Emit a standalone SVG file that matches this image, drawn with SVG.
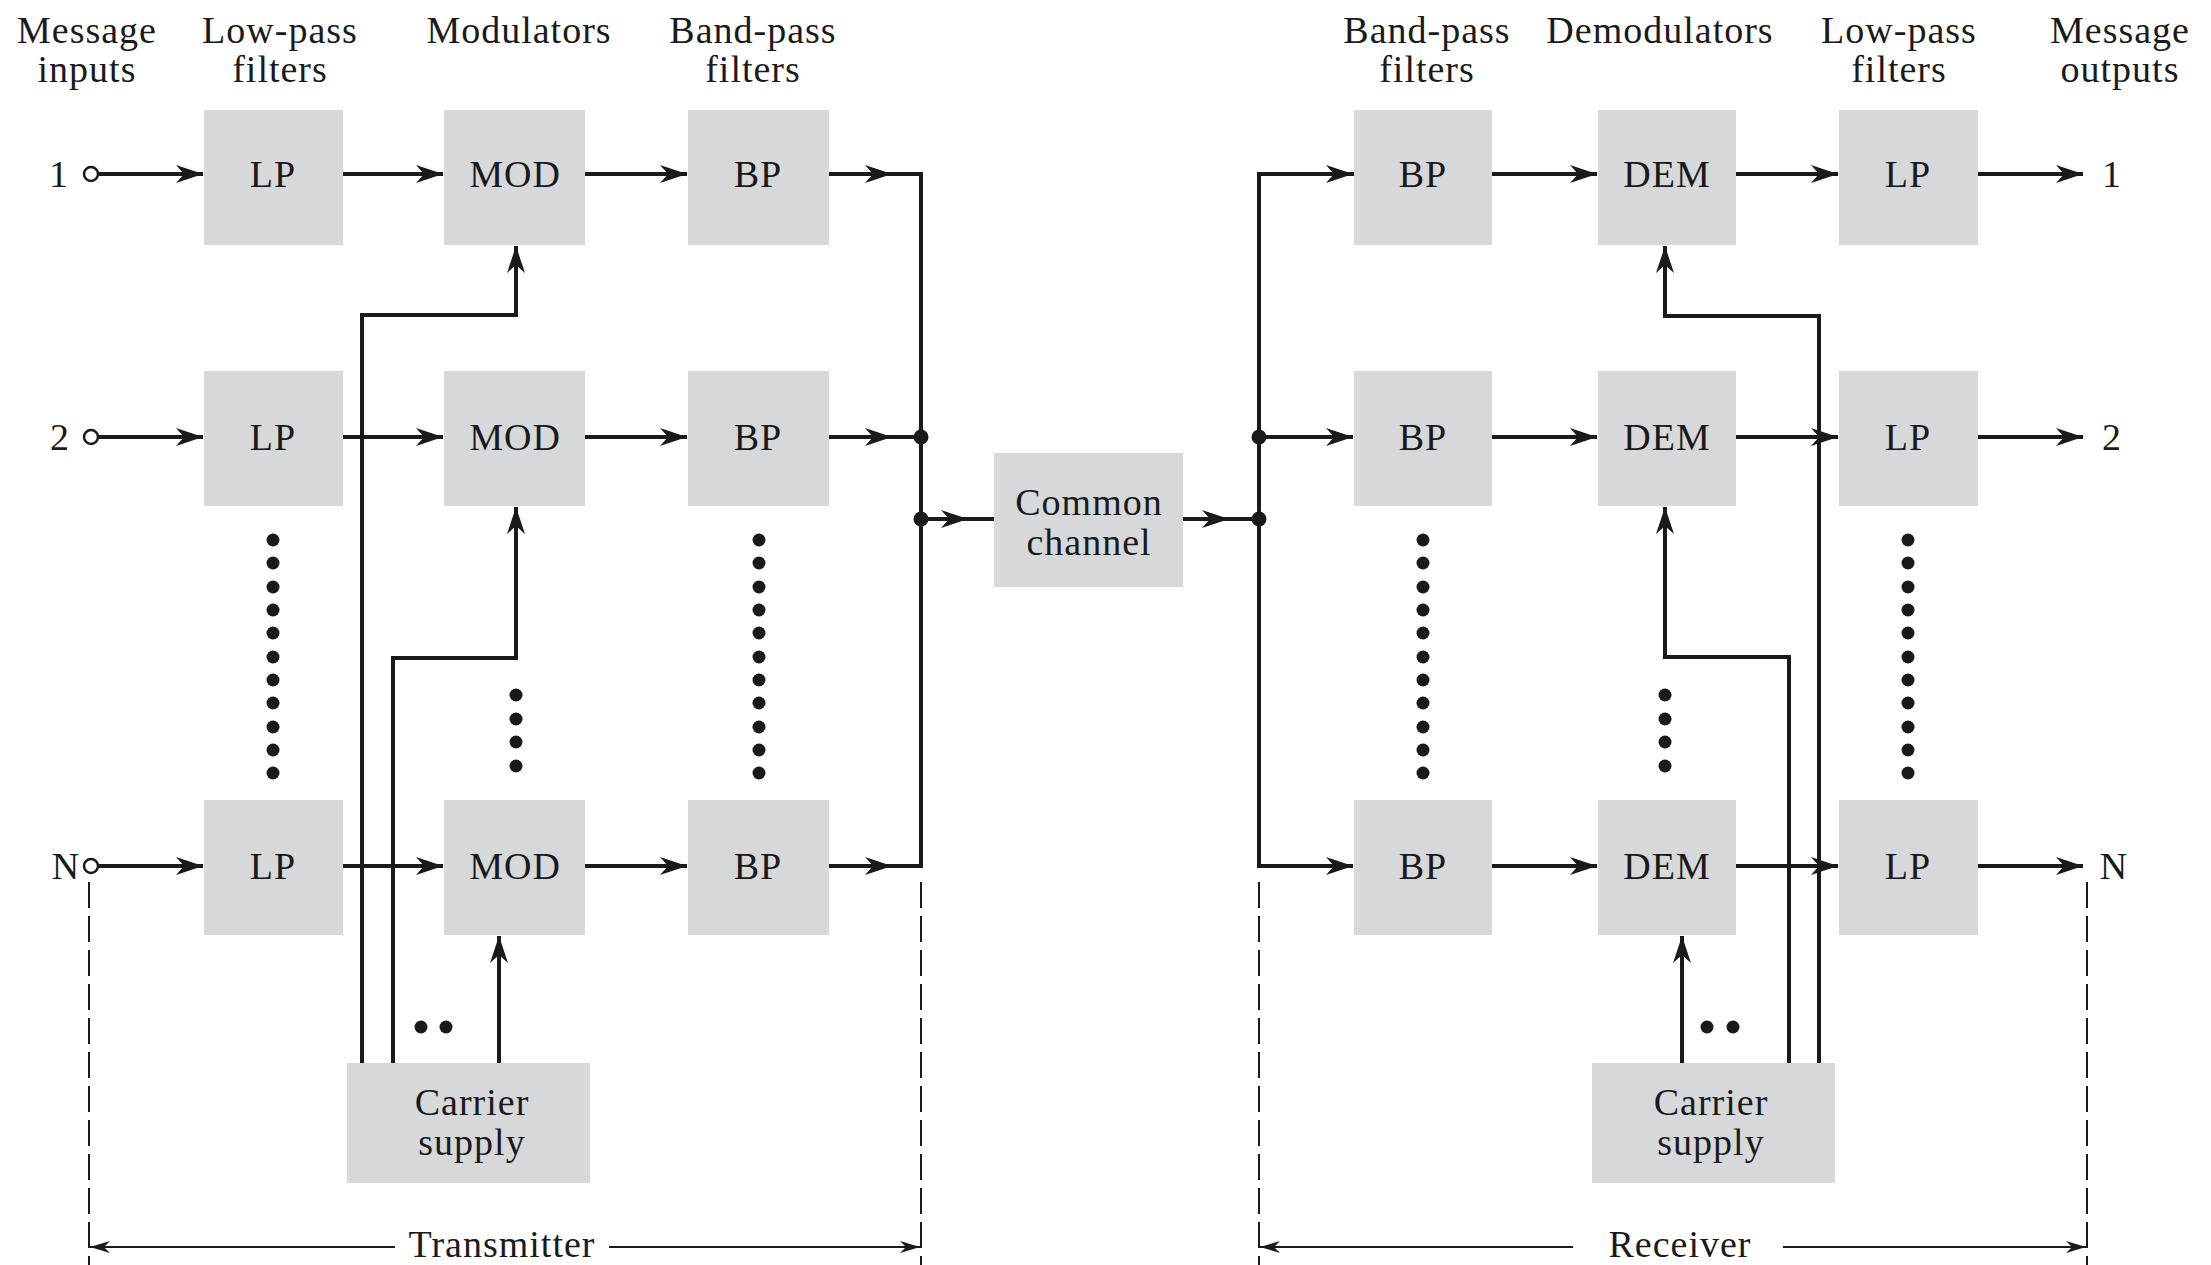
<svg xmlns="http://www.w3.org/2000/svg" width="2211" height="1265" viewBox="0 0 2211 1265">
<style>
.box{fill:#d7d8da;}
.t{font-family:"Liberation Serif","Times New Roman",serif;font-size:38px;fill:#1a1a1a;letter-spacing:1px;text-anchor:middle;}
.ln{stroke:#1a1a1a;stroke-width:4;fill:none;}
.ar{stroke:#1a1a1a;stroke-width:4;fill:none;marker-end:url(#ah);}
.dash{stroke:#1a1a1a;stroke-width:2;stroke-dasharray:26 8;fill:none;}
.dim{stroke:#1a1a1a;stroke-width:2;fill:none;marker-start:url(#sa);marker-end:url(#sa);}
.dot{fill:#1a1a1a;}
</style>
<defs>
<marker id="ah" markerUnits="userSpaceOnUse" markerWidth="40" markerHeight="30" viewBox="-30 -15 40 30" refX="0" refY="0" orient="auto" overflow="visible">
<path d="M0,0 L-27,-9 L-19,0 L-27,9 Z" fill="#1a1a1a"/>
</marker>
<marker id="sa" markerUnits="userSpaceOnUse" markerWidth="30" markerHeight="20" viewBox="-24 -10 30 20" refX="0" refY="0" orient="auto-start-reverse" overflow="visible">
<path d="M0,0 L-20,-6 L-14,0 L-20,6 Z" fill="#1a1a1a"/>
</marker>
</defs>
<rect width="2211" height="1265" fill="#ffffff"/>

<!-- headers -->
<g id="headers">
<text class="t" x="87" y="43">Message</text><text class="t" x="87" y="82">inputs</text>
<text class="t" x="280" y="43">Low-pass</text><text class="t" x="280" y="82">filters</text>
<text class="t" x="519" y="43">Modulators</text>
<text class="t" x="753" y="43">Band-pass</text><text class="t" x="753" y="82">filters</text>
<text class="t" x="1427" y="43">Band-pass</text><text class="t" x="1427" y="82">filters</text>
<text class="t" x="1660" y="43">Demodulators</text>
<text class="t" x="1899" y="43">Low-pass</text><text class="t" x="1899" y="82">filters</text>
<text class="t" x="2120" y="43">Message</text><text class="t" x="2120" y="82">outputs</text>
</g>

<!-- transmitter nodes -->
<g id="tx-lp1"><rect class="box" x="204" y="110" width="139" height="135"/><text class="t" x="273" y="187">LP</text></g>
<g id="tx-mod1"><rect class="box" x="444" y="110" width="141" height="135"/><text class="t" x="515" y="187">MOD</text></g>
<g id="tx-bp1"><rect class="box" x="688" y="110" width="141" height="135"/><text class="t" x="758" y="187">BP</text></g>
<g id="tx-lp2"><rect class="box" x="204" y="371" width="139" height="135"/><text class="t" x="273" y="450">LP</text></g>
<g id="tx-mod2"><rect class="box" x="444" y="371" width="141" height="135"/><text class="t" x="515" y="450">MOD</text></g>
<g id="tx-bp2"><rect class="box" x="688" y="371" width="141" height="135"/><text class="t" x="758" y="450">BP</text></g>
<g id="tx-lpN"><rect class="box" x="204" y="800" width="139" height="135"/><text class="t" x="273" y="879">LP</text></g>
<g id="tx-modN"><rect class="box" x="444" y="800" width="141" height="135"/><text class="t" x="515" y="879">MOD</text></g>
<g id="tx-bpN"><rect class="box" x="688" y="800" width="141" height="135"/><text class="t" x="758" y="879">BP</text></g>
<g id="tx-carrier"><rect class="box" x="347" y="1063" width="243" height="120"/><text class="t" x="472" y="1115">Carrier</text><text class="t" x="472" y="1155">supply</text></g>

<!-- common channel -->
<g id="common-channel"><rect class="box" x="994" y="453" width="189" height="134"/><text class="t" x="1089" y="515">Common</text><text class="t" x="1089" y="555">channel</text></g>

<!-- receiver nodes -->
<g id="rx-bp1"><rect class="box" x="1354" y="110" width="138" height="135"/><text class="t" x="1423" y="187">BP</text></g>
<g id="rx-dem1"><rect class="box" x="1598" y="110" width="138" height="135"/><text class="t" x="1667" y="187">DEM</text></g>
<g id="rx-lp1"><rect class="box" x="1839" y="110" width="139" height="135"/><text class="t" x="1908" y="187">LP</text></g>
<g id="rx-bp2"><rect class="box" x="1354" y="371" width="138" height="135"/><text class="t" x="1423" y="450">BP</text></g>
<g id="rx-dem2"><rect class="box" x="1598" y="371" width="138" height="135"/><text class="t" x="1667" y="450">DEM</text></g>
<g id="rx-lp2"><rect class="box" x="1839" y="371" width="139" height="135"/><text class="t" x="1908" y="450">LP</text></g>
<g id="rx-bpN"><rect class="box" x="1354" y="800" width="138" height="135"/><text class="t" x="1423" y="879">BP</text></g>
<g id="rx-demN"><rect class="box" x="1598" y="800" width="138" height="135"/><text class="t" x="1667" y="879">DEM</text></g>
<g id="rx-lpN"><rect class="box" x="1839" y="800" width="139" height="135"/><text class="t" x="1908" y="879">LP</text></g>
<g id="rx-carrier"><rect class="box" x="1592" y="1063" width="243" height="120"/><text class="t" x="1711" y="1115">Carrier</text><text class="t" x="1711" y="1155">supply</text></g>

<!-- inputs / outputs labels -->
<g id="inputs">
<text class="t" x="59" y="187">1</text>
<text class="t" x="60" y="450">2</text>
<text class="t" x="66" y="879">N</text>
<circle cx="91" cy="174" r="7" fill="#fff" stroke="#1a1a1a" stroke-width="2.5"/>
<circle cx="91" cy="437" r="7" fill="#fff" stroke="#1a1a1a" stroke-width="2.5"/>
<circle cx="91" cy="866" r="7" fill="#fff" stroke="#1a1a1a" stroke-width="2.5"/>
</g>
<g id="outputs">
<text class="t" x="2112" y="187">1</text>
<text class="t" x="2112" y="450">2</text>
<text class="t" x="2114" y="879">N</text>
</g>

<!-- connectors -->
<g id="connectors">
<line class="ar" x1="98" y1="174" x2="203" y2="174"/>
<line class="ar" x1="343" y1="174" x2="443" y2="174"/>
<line class="ar" x1="585" y1="174" x2="687" y2="174"/>
<line class="ar" x1="829" y1="174" x2="892" y2="174"/>
<line class="ar" x1="98" y1="437" x2="203" y2="437"/>
<line class="ar" x1="343" y1="437" x2="443" y2="437"/>
<line class="ar" x1="585" y1="437" x2="687" y2="437"/>
<line class="ar" x1="829" y1="437" x2="892" y2="437"/>
<line class="ar" x1="98" y1="866" x2="203" y2="866"/>
<line class="ar" x1="343" y1="866" x2="443" y2="866"/>
<line class="ar" x1="585" y1="866" x2="687" y2="866"/>
<line class="ar" x1="829" y1="866" x2="892" y2="866"/>
<path class="ln" d="M890,174 H921 V866 H890"/>
<line class="ln" x1="890" y1="437" x2="921" y2="437"/>
<line class="ar" x1="921" y1="519" x2="968" y2="519"/>
<line class="ln" x1="966" y1="519" x2="994" y2="519"/>
<line class="ar" x1="1183" y1="519" x2="1229" y2="519"/>
<line class="ln" x1="1227" y1="519" x2="1259" y2="519"/>
<circle class="dot" cx="921" cy="437" r="7.5"/>
<circle class="dot" cx="921" cy="519" r="7.5"/>
<circle class="dot" cx="1259" cy="437" r="7.5"/>
<circle class="dot" cx="1259" cy="519" r="7.5"/>
<path class="ln" d="M1354,174 H1259 V866 H1300"/>
<line class="ar" x1="1259" y1="174" x2="1353" y2="174"/>
<line class="ar" x1="1259" y1="437" x2="1353" y2="437"/>
<line class="ar" x1="1259" y1="866" x2="1353" y2="866"/>
<line class="ar" x1="1492" y1="174" x2="1597" y2="174"/>
<line class="ar" x1="1736" y1="174" x2="1838" y2="174"/>
<line class="ar" x1="1978" y1="174" x2="2083" y2="174"/>
<line class="ar" x1="1492" y1="437" x2="1597" y2="437"/>
<line class="ar" x1="1736" y1="437" x2="1838" y2="437"/>
<line class="ar" x1="1978" y1="437" x2="2083" y2="437"/>
<line class="ar" x1="1492" y1="866" x2="1597" y2="866"/>
<line class="ar" x1="1736" y1="866" x2="1838" y2="866"/>
<line class="ar" x1="1978" y1="866" x2="2083" y2="866"/>
<path class="ar" d="M362,1063 V315 H516 V246"/>
<path class="ar" d="M393,1063 V658 H516 V507"/>
<path class="ar" d="M499,1063 V936"/>
<path class="ar" d="M1819,1063 V316 H1665 V246"/>
<path class="ar" d="M1789,1063 V657 H1665 V507"/>
<path class="ar" d="M1682,1063 V936"/>
<line class="dash" x1="89" y1="882" x2="89" y2="1265"/>
<line class="dash" x1="921" y1="882" x2="921" y2="1265"/>
<line class="dash" x1="1259" y1="882" x2="1259" y2="1265"/>
<line class="dash" x1="2087" y1="882" x2="2087" y2="1265"/>
<line class="dim" x1="90" y1="1247" x2="395" y2="1247" style="marker-end:none"/>
<line class="dim" x1="609" y1="1247" x2="920" y2="1247" style="marker-start:none"/>
<line class="dim" x1="1260" y1="1247" x2="1573" y2="1247" style="marker-end:none"/>
<line class="dim" x1="1783" y1="1247" x2="2086" y2="1247" style="marker-start:none"/>
</g>

<g id="labels-bottom">
<text class="t" x="502" y="1257">Transmitter</text>
<text class="t" x="1680" y="1257">Receiver</text>
</g>

<g id="ellipses">
<g class="dot">
<circle cx="273" cy="540" r="6.5"/><circle cx="273" cy="563" r="6.5"/><circle cx="273" cy="587" r="6.5"/><circle cx="273" cy="610" r="6.5"/><circle cx="273" cy="633" r="6.5"/><circle cx="273" cy="657" r="6.5"/><circle cx="273" cy="680" r="6.5"/><circle cx="273" cy="703" r="6.5"/><circle cx="273" cy="727" r="6.5"/><circle cx="273" cy="750" r="6.5"/><circle cx="273" cy="773" r="6.5"/>
<circle cx="759" cy="540" r="6.5"/><circle cx="759" cy="563" r="6.5"/><circle cx="759" cy="587" r="6.5"/><circle cx="759" cy="610" r="6.5"/><circle cx="759" cy="633" r="6.5"/><circle cx="759" cy="657" r="6.5"/><circle cx="759" cy="680" r="6.5"/><circle cx="759" cy="703" r="6.5"/><circle cx="759" cy="727" r="6.5"/><circle cx="759" cy="750" r="6.5"/><circle cx="759" cy="773" r="6.5"/>
<circle cx="1423" cy="540" r="6.5"/><circle cx="1423" cy="563" r="6.5"/><circle cx="1423" cy="587" r="6.5"/><circle cx="1423" cy="610" r="6.5"/><circle cx="1423" cy="633" r="6.5"/><circle cx="1423" cy="657" r="6.5"/><circle cx="1423" cy="680" r="6.5"/><circle cx="1423" cy="703" r="6.5"/><circle cx="1423" cy="727" r="6.5"/><circle cx="1423" cy="750" r="6.5"/><circle cx="1423" cy="773" r="6.5"/>
<circle cx="1908" cy="540" r="6.5"/><circle cx="1908" cy="563" r="6.5"/><circle cx="1908" cy="587" r="6.5"/><circle cx="1908" cy="610" r="6.5"/><circle cx="1908" cy="633" r="6.5"/><circle cx="1908" cy="657" r="6.5"/><circle cx="1908" cy="680" r="6.5"/><circle cx="1908" cy="703" r="6.5"/><circle cx="1908" cy="727" r="6.5"/><circle cx="1908" cy="750" r="6.5"/><circle cx="1908" cy="773" r="6.5"/>
<circle cx="516" cy="695" r="6.5"/><circle cx="516" cy="719" r="6.5"/><circle cx="516" cy="742" r="6.5"/><circle cx="516" cy="766" r="6.5"/>
<circle cx="1665" cy="695" r="6.5"/><circle cx="1665" cy="719" r="6.5"/><circle cx="1665" cy="742" r="6.5"/><circle cx="1665" cy="766" r="6.5"/>
<circle cx="421" cy="1027" r="6.5"/><circle cx="446" cy="1027" r="6.5"/>
<circle cx="1707" cy="1027" r="6.5"/><circle cx="1733" cy="1027" r="6.5"/>
</g>
</g>
</svg>
